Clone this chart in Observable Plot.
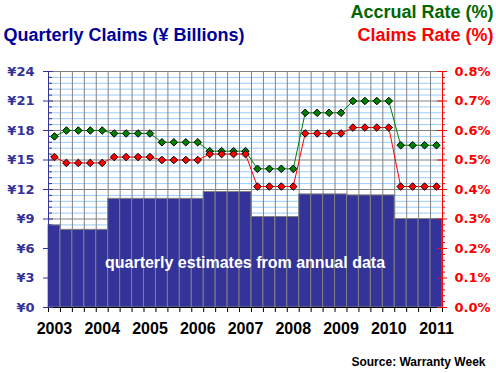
<!DOCTYPE html>
<html><head><meta charset="utf-8">
<script src="https://cdn.jsdelivr.net/npm/d3@7"></script>
<script src="https://cdn.jsdelivr.net/npm/@observablehq/plot@0.6"></script>
<style>body{margin:0;background:#fff}</style>
</head><body><div id="chart"></div>
<script>
// ---- data ----
const quarters = ["2003Q1","2003Q2","2003Q3","2003Q4","2004Q1","2004Q2","2004Q3","2004Q4",
  "2005Q1","2005Q2","2005Q3","2005Q4","2006Q1","2006Q2","2006Q3","2006Q4",
  "2007Q1","2007Q2","2007Q3","2007Q4","2008Q1","2008Q2","2008Q3","2008Q4",
  "2009Q1","2009Q2","2009Q3","2009Q4","2010Q1","2010Q2","2010Q3","2010Q4","2011Q1"];
const claims = [8.35, 7.9,7.9,7.9,7.9, 11.05,11.05,11.05,11.05, 11.05,11.05,11.05,11.05,
  11.75,11.75,11.75,11.75, 9.2,9.2,9.2,9.2, 11.5,11.5,11.5,11.5, 11.4,11.4,11.4,11.4, 9.0,9.0,9.0,9.0];
const accrualRate = [0.58, 0.60,0.60,0.60,0.60, 0.59,0.59,0.59,0.59, 0.56,0.56,0.56,0.56,
  0.53,0.53,0.53,0.53, 0.47,0.47,0.47,0.47, 0.66,0.66,0.66,0.66, 0.70,0.70,0.70,0.70, 0.55,0.55,0.55,0.55];
const claimsRate = [0.51, 0.49,0.49,0.49,0.49, 0.51,0.51,0.51,0.51, 0.50,0.50,0.50,0.50,
  0.52,0.52,0.52,0.52, 0.41,0.41,0.41,0.41, 0.59,0.59,0.59,0.59, 0.61,0.61,0.61,0.61, 0.41,0.41,0.41,0.41];
const yearLabels = ["2003","2004","2005","2006","2007","2008","2009","2010","2011"];
const yenTicks = [0,3,6,9,12,15,18,21,24];
const rateTicks = [0.0,0.1,0.2,0.3,0.4,0.5,0.6,0.7,0.8];

// ---- build ----
const RATE_TO_YEN = 24 / 0.8; // right axis (0–0.8%) shares the left scale (¥0–24)
const table = quarters.map((q, i) => ({q, i, claims: claims[i], accrual: accrualRate[i], rate: claimsRate[i]}));
const years = yearLabels.map(y => ({y, i: quarters.indexOf(y + "Q1")}));
const minorTicks = d3.range(0, 24.001, 0.6).filter(v => Math.abs(v / 3 - Math.round(v / 3)) > 1e-6);
const boundaries = d3.range(0, quarters.length + 1);

const sans = "'Liberation Sans', Arial, sans-serif";
const axisFont = "'DejaVu Sans', Verdana, sans-serif";

const plot = Plot.plot({
  width: 496, height: 373,
  marginLeft: 48, marginRight: 54, marginTop: 71, marginBottom: 66,
  style: {background: "white", overflow: "visible"},
  x: {domain: [0, quarters.length], axis: null},
  y: {domain: [0, 24], axis: null},
  marks: [
    Plot.ruleY(minorTicks, {stroke: "#99CCFF"}),
    Plot.ruleY(yenTicks, {stroke: "#808080"}),
    Plot.ruleX(boundaries, {stroke: "#808080"}),
    Plot.rectY(table, {x1: "i", x2: d => d.i + 1, y: "claims", fill: "#333399", stroke: "#808080", strokeWidth: 1}),
    Plot.text(["quarterly estimates from annual data"], {frameAnchor: "top-left", dx: 196.5, dy: 196, textAnchor: "middle", lineAnchor: "bottom",
      fill: "white", fontFamily: sans, fontWeight: "bold", fontSize: 16}),
    // accrual rate (green)
    Plot.line(table, {x: d => d.i + 0.5, y: d => d.accrual * RATE_TO_YEN, stroke: "#008000", strokeWidth: 1}),
    Plot.dot(table, {x: d => d.i + 0.5, y: d => d.accrual * RATE_TO_YEN, symbol: "diamond2", r: 3.4, fill: "#008000", stroke: "black", strokeWidth: 1}),
    // claims rate (red)
    Plot.line(table, {x: d => d.i + 0.5, y: d => d.rate * RATE_TO_YEN, stroke: "#FF0000", strokeWidth: 1}),
    Plot.dot(table, {x: d => d.i + 0.5, y: d => d.rate * RATE_TO_YEN, symbol: "diamond2", r: 3.4, fill: "#FF0000", stroke: "black", strokeWidth: 1}),
    // bottom axis
    Plot.ruleY([0], {stroke: "black"}),
    Plot.ruleX(boundaries, {y1: 0, y2: 0, insetBottom: -5, stroke: "black"}),
    Plot.text(years, {x: d => d.i + 0.5, y: 0, text: "y", dy: 26, lineAnchor: "bottom", fill: "black",
      fontFamily: sans, fontWeight: "bold", fontSize: 16}),
    // left axis
    Plot.ruleX([0], {y1: 0, y2: 24, stroke: "#333399"}),
    Plot.ruleY(yenTicks, {x1: 0, x2: 0, insetLeft: -5, insetRight: -5, stroke: "#333399"}),
    Plot.ruleY(minorTicks, {x1: 0, x2: 0, insetLeft: 0, insetRight: -4, stroke: "#333399"}),
    Plot.text(yenTicks, {x: 0, y: d => d, text: d => "¥" + d, dx: -14, textAnchor: "end", fill: "#333399",
      fontFamily: axisFont, fontWeight: "bold", fontSize: 13}),
    // right axis
    Plot.ruleX([quarters.length], {y1: 0, y2: 24, stroke: "#FF0000"}),
    Plot.ruleY(rateTicks, {y: d => d * RATE_TO_YEN, x1: quarters.length, x2: quarters.length, insetLeft: -5, insetRight: -5, stroke: "#FF0000"}),
    Plot.ruleY(minorTicks, {x1: quarters.length, x2: quarters.length, insetLeft: 0, insetRight: -3, stroke: "#FF0000"}),
    Plot.text(rateTicks, {x: quarters.length, y: d => d * RATE_TO_YEN, text: d => d.toFixed(1) + "%", dx: 12, textAnchor: "start", fill: "#FF0000",
      fontFamily: axisFont, fontWeight: "bold", fontSize: 13}),
    // titles
    Plot.text(["Quarterly Claims (¥ Billions)"], {frameAnchor: "top-left", dx: -45, dy: -31, textAnchor: "start", lineAnchor: "bottom",
      fill: "#000099", fontFamily: sans, fontWeight: "bold", fontSize: 18}),
    Plot.text(["Accrual Rate (%)"], {frameAnchor: "top-right", dx: 51, dy: -54, textAnchor: "end", lineAnchor: "bottom",
      fill: "#006600", fontFamily: sans, fontWeight: "bold", fontSize: 18}),
    Plot.text(["Claims Rate (%)"], {frameAnchor: "top-right", dx: 51, dy: -31, textAnchor: "end", lineAnchor: "bottom",
      fill: "#FF0000", fontFamily: sans, fontWeight: "bold", fontSize: 18}),
    Plot.text(["Source: Warranty Week"], {frameAnchor: "bottom-right", dx: 43, dy: 58, textAnchor: "end", lineAnchor: "bottom",
      fill: "black", fontFamily: sans, fontWeight: "bold", fontSize: 12})
  ]
});
document.getElementById("chart").appendChild(plot);
</script>
</body></html>
